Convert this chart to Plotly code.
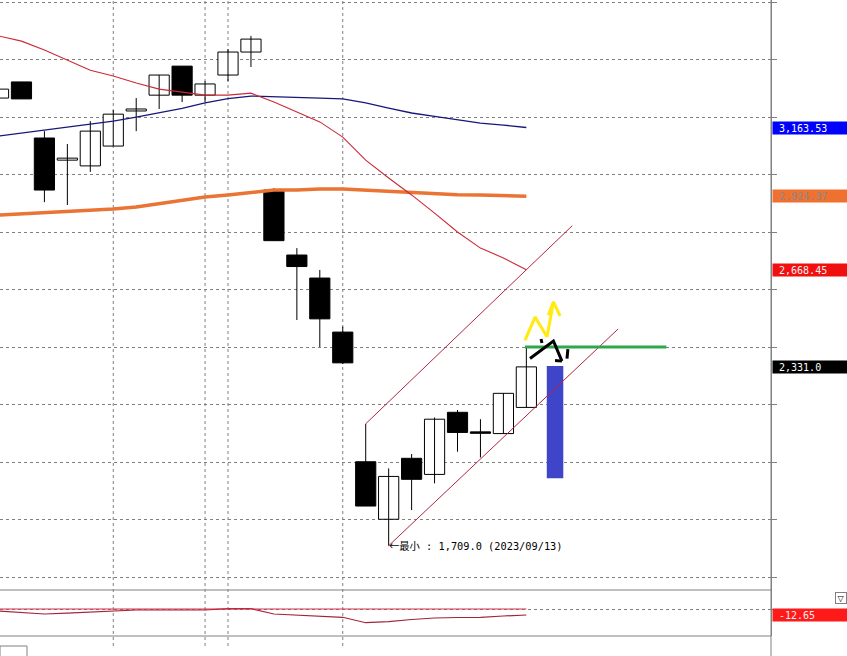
import plotly.graph_objects as go

# ---------------- data ----------------
idx = list(range(24))
opens  = [3266, 3322, 3127, 3050, 3030, 3099, 3221, 3276, 3377, 3276, 3346, 3426,
          2946, 2720, 2640, 2452, 2001, 1801, 2013, 1957, 2173, 2105, 2099, 2190]
highs  = [3297, 3322, 3151, 3106, 3186, 3224, 3266, 3346, 3377, 3325, 3436, 3482,
          2953, 2744, 2668, 2471, 2133, 1978, 2028, 2155, 2181, 2149, 2239, 2400]
lows   = [3266, 3263, 2904, 2894, 3009, 3099, 3151, 3228, 3252, 3252, 3325, 3374,
          2770, 2494, 2400, 2341, 1847, 1709, 1833, 1926, 2036, 2016, 2099, 2190]
closes = [3297, 3263, 2946, 3057, 3151, 3210, 3228, 3346, 3276, 3315, 3426, 3471,
          2770, 2680, 2498, 2345, 1847, 1950, 1940, 2149, 2103, 2100, 2239, 2331.0]

ma_red    = [3482, 3464, 3433, 3398, 3363, 3343, 3318, 3297, 3287, 3276, 3276, 3283,
             3252, 3217, 3183, 3130, 3050, 2988, 2929, 2866, 2800, 2744, 2710, 2668.45]
ma_blue   = [3134, 3144, 3155, 3165, 3174, 3186, 3200, 3214, 3230, 3249, 3264, 3273,
             3271, 3270, 3266, 3263, 3249, 3231, 3214, 3202, 3191, 3179, 3172, 3163.53]
ma_orange = [2859, 2863, 2866, 2873, 2875, 2880, 2887, 2899, 2911, 2922, 2929, 2939,
             2946, 2946, 2950, 2950, 2946, 2941, 2936, 2932, 2930, 2929, 2926, 2924.37]
osc       = [-4.2, -7.3, -10.5, -8.8, -6.9, -4.2, -2.1, -2.1, -2.7, -2.1, 0.6, 0.6,
             -10.5, -12.6, -14.7, -17.4, -28.8, -26.7, -22.0, -18.9, -17.9, -17.4, -14.7, -12.65]

# trend channel (hand-drawn lines)
chan_up_x, chan_up_y = [16, 25.0], [2133, 2822]
chan_lo_x, chan_lo_y = [17, 27.0], [1709, 2463]
# horizontal green line
green_x, green_y = [22.94, 29.1], [2400, 2400]
# blue rectangle (forecast bar)
blue_x, blue_lo, blue_hi = 24.25, 1944, 2334
# yellow zig-zag arrow
yel_x = [22.94, 23.38, 23.90, 24.18, None, 23.96, 24.18, 24.47]
yel_y = [2423, 2504, 2436, 2557, None, 2511, 2557, 2508]
# black hand-drawn arrow
blk_x = [23.16, 24.18, 24.55, None, 24.25, 24.55, None, 24.81, 24.77, None, 23.64, 23.68]
blk_y = [2360, 2421, 2351, None, 2353, 2351, None, 2393, 2360, None, 2428, 2414]

grid_x = [5, 9, 10, 15]
min_idx, min_val, min_date = 17, 1709.0, "2023/09/13"

# ---------------- figure ----------------
fig = go.Figure()

wx, wy = [], []
for i, h, l in zip(idx, highs, lows):
    if h > l:
        wx += [i, i, None]
        wy += [l, h, None]
fig.add_trace(go.Scatter(x=wx, y=wy, mode="lines", line=dict(color="black", width=1),
                         hoverinfo="skip"))

up = [i for i in idx if closes[i] >= opens[i]]
dn = [i for i in idx if closes[i] < opens[i]]
for sel, col in ((up, "white"), (dn, "black")):
    fig.add_trace(go.Bar(
        x=sel,
        y=[max(abs(closes[i] - opens[i]), 4) for i in sel],
        base=[min(opens[i], closes[i]) for i in sel],
        width=0.88,
        marker=dict(color=col, line=dict(color="black", width=1)),
        hoverinfo="skip"))

fig.add_trace(go.Bar(x=[blue_x], y=[blue_hi - blue_lo], base=[blue_lo], width=0.72,
                     marker=dict(color="#3f45c8", line=dict(width=0)), hoverinfo="skip"))

fig.add_trace(go.Scatter(x=idx, y=ma_orange, mode="lines", line=dict(color="#ea7434", width=3.5)))
fig.add_trace(go.Scatter(x=idx, y=ma_blue, mode="lines", line=dict(color="#17177a", width=1.3)))
fig.add_trace(go.Scatter(x=idx, y=ma_red, mode="lines", line=dict(color="#cc2a36", width=1.1)))
fig.add_trace(go.Scatter(x=chan_up_x, y=chan_up_y, mode="lines", line=dict(color="#b3263e", width=1)))
fig.add_trace(go.Scatter(x=chan_lo_x, y=chan_lo_y, mode="lines", line=dict(color="#b3263e", width=1)))
fig.add_trace(go.Scatter(x=green_x, y=green_y, mode="lines", line=dict(color="#2fa84a", width=3)))
fig.add_trace(go.Scatter(x=yel_x, y=yel_y, mode="lines", line=dict(color="#ffeb10", width=3)))
fig.add_trace(go.Scatter(x=blk_x, y=blk_y, mode="lines", line=dict(color="black", width=3)))

fig.add_trace(go.Scatter(x=idx, y=osc, mode="lines", line=dict(color="#a3243a", width=1.2),
                         xaxis="x", yaxis="y2"))

H = 646.0
main_bot = (H - 590) / H
ind_bot = (H - 636) / H
grey = "#808080"

shapes = []
for gx in grid_x:
    shapes.append(dict(type="line", xref="x", yref="paper", x0=gx, x1=gx, y0=0, y1=1,
                       line=dict(color=grey, width=1, dash="3px,3px"), layer="below"))
shapes.append(dict(type="line", xref="x", yref="y2", x0=idx[0], x1=idx[-1], y0=0, y1=0,
                   line=dict(color="#d9304a", width=1)))
for yy in (main_bot, ind_bot):
    shapes.append(dict(type="line", xref="paper", yref="paper", x0=0, x1=1, y0=yy, y1=yy,
                       line=dict(color=grey, width=1)))
shapes.append(dict(type="line", xref="paper", yref="paper", x0=1, x1=1, y0=-10 / H, y1=1,
                   line=dict(color=grey, width=1)))
shapes.append(dict(type="rect", xref="paper", yref="paper", x0=0, x1=27 / 771, y0=-12 / H, y1=0,
                   line=dict(color=grey, width=1)))

def lab(val, fmt, bg, fc, yref):
    return dict(xref="paper", x=1, xanchor="left", xshift=1, yref=yref, y=val, yanchor="middle",
                text="&nbsp;" + fmt.format(val), showarrow=False, bgcolor=bg,
                font=dict(family="DejaVu Sans Mono", size=10, color=fc),
                width=75, height=12, align="left", borderpad=0)

min_text = ("<span style='font-family:Noto Sans CJK JP'>←最小</span>"
            " : {:,.1f} ({})".format(min_val, min_date))

annotations = [
    lab(ma_blue[-1], "{:,.2f}", "#0000ff", "white", "y"),
    lab(ma_orange[-1], "{:,.2f}", "#f07030", "#8a8a8a", "y"),
    lab(ma_red[-1], "{:,.2f}", "#f01010", "#f0f0f0", "y"),
    lab(closes[-1], "{:,.1f}", "#000000", "white", "y"),
    lab(osc[-1], "{:.2f}", "#ff1a1a", "#f0f0f0", "y2"),
    dict(xref="x", x=min_idx, xanchor="left", xshift=-2, yref="y", y=min_val, yanchor="middle",
         text=min_text, showarrow=False,
         font=dict(family="DejaVu Sans Mono, Noto Sans CJK JP", size=10.3, color="black")),
    dict(xref="paper", x=841 / 771, y=(H - 598) / H, xanchor="center", yanchor="middle",
         yref="paper", text="▽", showarrow=False, bgcolor="white",
         bordercolor=grey, borderwidth=1, borderpad=0, width=10, height=10,
         font=dict(family="DejaVu Sans", size=8, color="black")),
]

fig.update_layout(
    width=847, height=656,
    margin=dict(l=0, r=76, t=0, b=10),
    paper_bgcolor="white", plot_bgcolor="white",
    showlegend=False, barmode="overlay",
    shapes=shapes, annotations=annotations,
    xaxis=dict(range=[0.065, 33.66], showgrid=False, zeroline=False, showticklabels=False,
               showline=False, ticks="", anchor="y"),
    yaxis=dict(domain=[main_bot, 1], range=[1555, 3607], side="right", anchor="x",
               showgrid=True, gridcolor=grey, gridwidth=1, griddash="3px,3px",
               tick0=0, dtick=200, ticks="outside", ticklen=5, tickcolor=grey,
               showticklabels=False, showline=True, linecolor=grey, zeroline=False),
    yaxis2=dict(domain=[ind_bot, main_bot], range=[-56.7, 39.9], side="right", anchor="x",
                showgrid=True, gridcolor=grey, gridwidth=1, griddash="3px,3px",
                tickvals=[0], ticks="outside", ticklen=5, tickcolor=grey,
                showticklabels=False, showline=True, linecolor=grey, zeroline=False),
)

fig.write_html("out.html", config={"displayModeBar": False},
               post_script="document.body.style.margin='0px';document.body.style.overflow='hidden';")
